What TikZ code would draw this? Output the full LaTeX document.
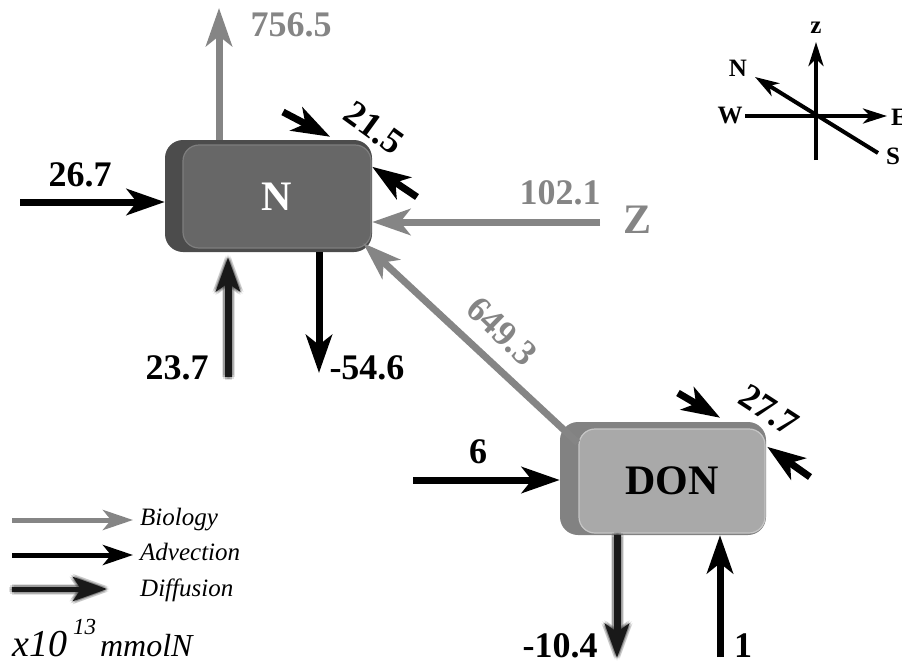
\documentclass[tikz,border=0pt]{standalone}
\usepackage{fontspec}
\setmainfont{Liberation Serif}[BoldFont={Liberation Serif Bold}, ItalicFont={Liberation Serif Italic}, BoldItalicFont={Liberation Serif Bold Italic}]
\usetikzlibrary{arrows.meta}

\definecolor{biogray}{HTML}{858585}
\definecolor{ndark}{HTML}{4C4C4C}
\definecolor{nface}{HTML}{676767}
\definecolor{nedge}{HTML}{7E7E7E}
\definecolor{ddark}{HTML}{828282}
\definecolor{dface}{HTML}{A9A9A9}
\definecolor{dedge}{HTML}{C6C6C6}

\tikzset{
  flux/.style={line width=7pt, -{Stealth[length=38pt,width=26pt,inset=10pt]}},
  adv/.style={flux, draw=black, fill=black},
  bio/.style={flux, draw=biogray, fill=biogray},
  diff/.style={line width=7pt, draw=black!90, fill=black!90, -{Stealth[length=34pt,width=24pt,inset=8pt]}},
  lab/.style={font=\bfseries\fontsize{36}{40}\selectfont, inner sep=0pt},
  biolab/.style={lab, text=biogray},
  boxside/.style={rounded corners=18pt, inner sep=0pt},
  boxface/.style={rounded corners=16pt, inner sep=0pt, line width=1.2pt, font=\bfseries\fontsize{42}{46}\selectfont},
  compass/.style={line width=4pt, -{Stealth[length=24pt,width=15pt,inset=7pt]}},
  complab/.style={font=\bfseries\fontsize{25}{28}\selectfont, inner sep=0pt},
  leglab/.style={font=\itshape\fontsize{25}{28}\selectfont, inner sep=0pt, anchor=base west},
}

% blurred arrow: faint shifted copies, then the core
\newcommand\DiffArrow[3][]{%
  \foreach \dx/\dy in {-3pt/0pt,3pt/0pt,0pt/-3pt,0pt/3pt,-2pt/-2pt,2pt/2pt,-2pt/2pt,2pt/-2pt,-1.5pt/0pt,1.5pt/0pt,0pt/1.5pt,0pt/-1.5pt}
    \draw[diff,#1,opacity=0.13] ([xshift=\dx,yshift=\dy]#2) -- ([xshift=\dx,yshift=\dy]#3);
  \draw[diff,#1] (#2) -- (#3);}

\begin{document}
\begin{tikzpicture}[x=1pt, y=-1pt]
\useasboundingbox (0,0) rectangle (902,664);

% boxes
\node[boxside, fill=ndark, minimum width=207pt, minimum height=112pt] (N) at (268.5,196) {};
\node[boxface, fill=nface, draw=nedge, text=white, minimum width=188pt, minimum height=103pt] (Nface) at (277,196.5) {N};
\node[boxside, fill=ddark, minimum width=206pt, minimum height=113pt] (DON) at (663,478.5) {};
\node[boxface, fill=dface, draw=dedge, minimum width=186pt, minimum height=104pt] (DONface) at (672,481) {DON};

% free ends
\coordinate (up756) at (219,8);
\coordinate (in267) at (20,202);
\coordinate (in215a) at (283,112);
\coordinate (in215b) at (417,197);
\coordinate (in102) at (600,222);
\coordinate (in237) at (228,377);
\coordinate (out546) at (319,373);
\coordinate (in6) at (413,480);
\coordinate (in277a) at (678,393);
\coordinate (in277b) at (810,477);
\coordinate (out104) at (617,658);
\coordinate (in1) at (720,657);
\coordinate (top237) at (in237 |- N.south);
\coordinate (top104) at (out104 |- DON.south);

% fluxes around N
\draw[bio] (up756 |- N.north) -- (up756);
\draw[adv] (in267) -- (in267 -| N.west);
\draw[adv] (in215a) -- ([xshift=-42pt,yshift=3pt]N.north east);
\draw[adv] (in215b) -- ([yshift=-27pt]N.north east);
\draw[bio] (in102) -- (in102 -| N.east);
\draw[adv] (out546 |- N.south) -- (out546);
\DiffArrow[shorten >=5pt]{in237}{top237}
\draw[bio] ([xshift=18pt,yshift=-21pt]DON.north west) -- ([xshift=-9pt,yshift=9pt]N.south east);

% fluxes around DON
\draw[adv] (in6) -- (in6 -| DON.west);
\draw[adv] (in277a) -- ([xshift=-46pt,yshift=4pt]DON.north east);
\draw[adv] (in277b) -- ([xshift=1pt,yshift=-25pt]DON.north east);
\DiffArrow{top104}{out104}
\draw[adv] (in1) -- (in1 |- DON.south);

% values
\node[biolab] (l756) at (291,25) {756.5};
\node[lab] (l267) at (80,175) {26.7};
\node[lab, rotate=-36] (l215) at (374,128) {21.5};
\node[biolab] (l102) at (560,193) {102.1};
\node[biolab, font=\bfseries\fontsize{42}{46}\selectfont] (Z) at (637,220) {Z};
\node[biolab, rotate=-44] (l649) at (502,331) {649.3};
\node[lab] (l237) at (177,368) {23.7};
\node[lab] (l546) at (367,368) {-54.6};
\node[lab] (l6) at (478,452) {6};
\node[lab, rotate=-33] (l277) at (769,410) {27.7};
\node[lab] (l104) at (560,646) {-10.4};
\node[lab] (l1) at (743,646) {1};

% compass
\coordinate (cz0) at (816,160);
\coordinate (cz) at (816,42);
\coordinate (cw) at (745,116);
\coordinate (ce) at (887,116);
\coordinate (cs) at (878,153);
\coordinate (cn) at (755,77);
\draw[compass] (cz0) -- (cz);
\draw[compass] (cw) -- (ce);
\draw[compass] (cs) -- (cn);
\node[complab] (tz) at (816,28) {z};
\node[complab] (tw) at (730,116) {W};
\node[complab, anchor=west] (te) at (891,117) {E};
\node[complab] (tn) at (738,68) {N};
\node[complab] (ts) at (893,156) {S};

% legend
\coordinate (lg1) at (12,520);
\coordinate (lg1e) at (133,520);
\coordinate (lg2) at (12,555);
\coordinate (lg2e) at (133,555);
\coordinate (lg3) at (12,589);
\coordinate (lg3e) at (107,589);
\draw[bio, line width=5pt, -{Stealth[length=30pt,width=20pt,inset=8pt]}] (lg1) -- (lg1e);
\draw[adv, line width=5pt, -{Stealth[length=30pt,width=20pt,inset=8pt]}] (lg2) -- (lg2e);
\DiffArrow[line width=5pt]{lg3}{lg3e}
\node[leglab] (tbio) at (140,525) {Biology};
\node[leglab] (tadv) at (140,560) {Advection};
\node[leglab] (tdif) at (140,596) {Diffusion};
\node[inner sep=0pt, anchor=base west] (unit) at (12,656)
  {\itshape\fontsize{38}{40}\selectfont x10\hspace{6pt}\raisebox{22pt}{\fontsize{23}{25}\selectfont 13}\hspace{4pt}\fontsize{32}{34}\selectfont mmolN};
\end{tikzpicture}
\end{document}
